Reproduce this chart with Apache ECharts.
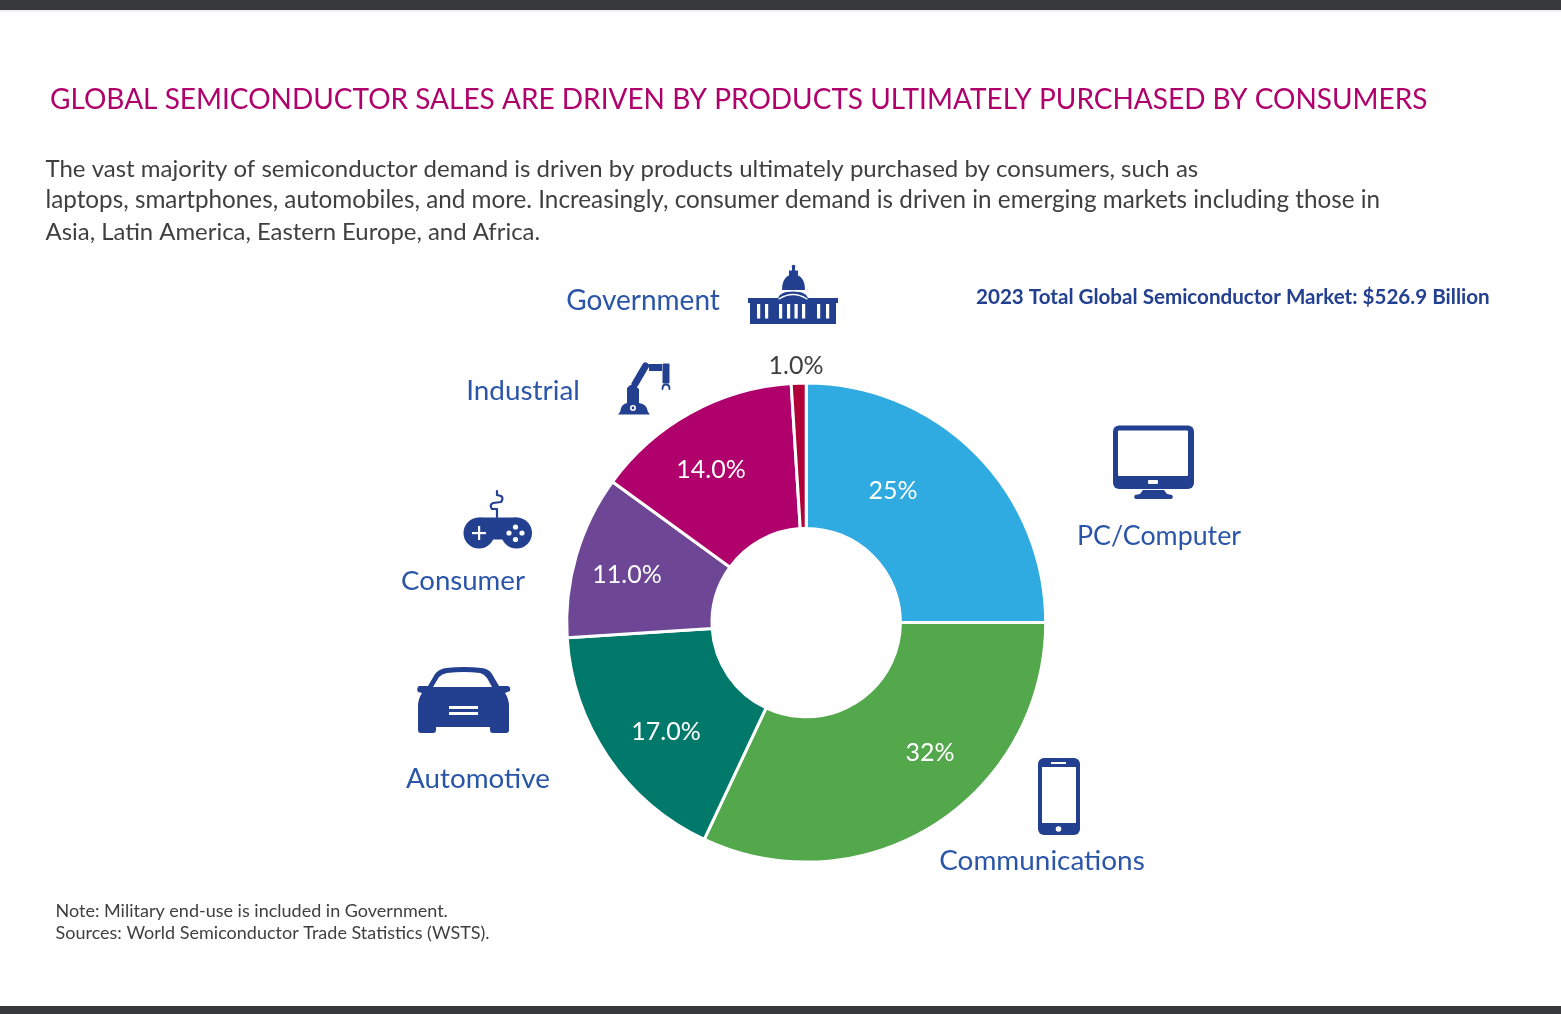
<!DOCTYPE html>
<html><head><meta charset="utf-8">
<style>html,body{margin:0;padding:0;background:#fff}#c{width:1561px;height:1014px}</style>
<script src="https://cdn.jsdelivr.net/npm/echarts@6/dist/echarts.min.js"></script></head>
<body><div id="c"></div>
<script>
const categories = ['PC/Computer','Communications','Automotive','Consumer','Industrial','Government'];
const values = [25,32,17,11,14,1];
const valueLabels = ['25%','32%','17.0%','11.0%','14.0%','1.0%'];
const sliceColors = ['#2FABE2','#52A84A','#00796B','#6D4795','#B0006B','#B00038'];
const titleText = 'GLOBAL SEMICONDUCTOR SALES ARE DRIVEN BY PRODUCTS ULTIMATELY PURCHASED BY CONSUMERS';
const introLines = ['The vast majority of semiconductor demand is driven by products ultimately purchased by consumers, such as',
 'laptops, smartphones, automobiles, and more. Increasingly, consumer demand is driven in emerging markets including those in',
 'Asia, Latin America, Eastern Europe, and Africa.'];
const totalText = '2023 Total Global Semiconductor Market: $526.9 Billion';
const noteLines = ['Note: Military end-use is included in Government.','Sources: World Semiconductor Trade Statistics (WSTS).'];

const FONT = 'Lato, "Noto Sans", sans-serif';
const NAVY = '#234090', LABEL = '#2A55A8';
const namePos = [[1159,536.5],[1042,861],[478,779.5],[463,581.5],[523,391],[643,301]];
const nameSize = [26.8,27.9,27.8,27.6,27.9,28];
const pctPos = [[893,491],[930,753],[666,732],[627,575],[711,470],[796,365.5]];
const introSize = [24,24.25,23.9];

const txt = (s,x,y,size,fill,extra={}) => ({type:'text',silent:true,x,y,style:{text:s,font:`${extra.weight||'normal'} ${size}px ${FONT}`,fill,textAlign:extra.align||'left',textVerticalAlign:'middle'}});
const rect = (x,y,w,h,fill,r=0) => ({type:'rect',silent:true,shape:{x,y,width:w,height:h,r},style:{fill}});
const circ = (cx,cy,r,fill) => ({type:'circle',silent:true,shape:{cx,cy,r},style:{fill}});
let shapeCount = 0;
const shapeType = d => { const name='iconShape'+(shapeCount++); echarts.graphic.registerShape(name, echarts.graphic.extendPath(d)); return name; };
const path = (d,fill) => ({type:shapeType(d),silent:true,style:{fill}});
const stroke = (d,w,col=NAVY) => ({type:shapeType(d),silent:true,style:{fill:'none',stroke:col,lineWidth:w,lineCap:'round',lineJoin:'round'}});

const icons = [
 // monitor
 rect(1113,425.5,81,63.5,NAVY,6), rect(1118,430.5,70,45.5,'#fff',1), rect(1148,480,10,4,'#fff',1),
 path('M1143,490 L1164,490 L1167,494 L1172,495 Q1174,498 1171,499 L1136,499 Q1133,498 1135,495 L1140,494 Z',NAVY),
 // phone
 rect(1038,758,42,77,NAVY,6), rect(1042,767,34,56,'#fff'), rect(1051,762,15,2,'#fff'), circ(1058.5,829,2.8,'#fff'),
 // car
 path('M446,668 Q464,666 482,668 Q489,669 492,674 L499,686 L508,686 Q511,687 510,691 L505,693 Q509,699 509,706 L509,730 Q509,733 506,733 L493,733 Q490,733 490,730 L490,727 L436,727 L436,730 Q436,733 433,733 L421,733 Q418,733 418,730 L418,706 Q418,699 422,693 L418,692 Q416,688 419,686 L428,686 L435,674 Q439,669 446,668 Z',NAVY),
 path('M447,673 Q464,671 480,673 Q484,674 487,678 L492,687 L433,687 L439,677 Q442,674 447,673 Z','#fff'),
 rect(449,706,29,3,'#fff'), rect(449,712,29,3,'#fff'),
 // gamepad
 circ(479,533,15.5,NAVY), circ(516.5,533,15.5,NAVY), rect(479,517.5,38,22,NAVY),
 stroke('M497,517 L497,509 L492,509 Q489,505 493,503 L501,502 Q504,498 501,496 L497,495 L497,491',2.2),
 rect(472,532,14,2.2,'#fff'), rect(478,526,2.2,14,'#fff'),
 circ(515.5,527,2.6,'#fff'), circ(509,533,2.6,'#fff'), circ(522,533,2.6,'#fff'), circ(515.5,539.5,2.6,'#fff'),
 // robot arm
 path('M618,414.5 L620,412 Q621,404 627,403 L627,388 Q630,384 634,385 L639,389 L639,403 Q647,404 648,412 L650,414.5 Z',NAVY),
 circ(633,408,3,'#fff'), circ(633,408,1.4,NAVY),
 stroke('M635,384 L645.5,366',7), rect(649,364,13,7,NAVY), rect(662.5,363.5,7,20,NAVY,1),
 stroke('M662.5,389 Q662.5,384.5 666,384.5 Q669.5,384.5 669.5,389',1.8),
 // capitol
 rect(748,298,90,5,NAVY), rect(750,303,86,21,NAVY),
 path('M778,303 L778,299 Q779,291.5 793,291.5 Q807,291.5 808,299 L808,303 Z',NAVY),
 path('M782,290 C782,279 787,274.5 793.5,274.5 C800,274.5 805,279 805,290 Z',NAVY),
 stroke('M779,299 Q793,290 807,299',1.3,'#fff'),
 rect(789,270.5,9,6,NAVY), rect(792,266,3,5,NAVY), circ(793.5,266.5,1.8,NAVY),
 ...[757,765,779,787,794.5,802,817,826].map(x=>rect(x,304,3.2,14.5,'#fff'))
];

const texts = [
 txt(titleText,50,100,28,'#B0006B'),
 ...introLines.map((s,i)=>txt(s,45.5,169+i*31.5,introSize[i],'#3F3F3F')),
 txt(totalText,976,297.5,20.6,NAVY,{weight:'bold'}),
 ...categories.map((c,i)=>txt(c,namePos[i][0],namePos[i][1],nameSize[i],LABEL,{align:'center'})),
 ...noteLines.map((s,i)=>txt(s,55.5,911+i*22,18,'#3F3F3F'))
];

const chart = echarts.init(document.getElementById('c'),null,{renderer:'canvas'});
chart.setOption({
 animation:false,
 backgroundColor:'#fff',
 series:[{
  type:'pie',silent:true,
  center:[806.2,622.6],radius:[94.2,239.5],startAngle:90,clockwise:true,
  data:categories.map((n,i)=>({name:n,value:values[i],itemStyle:{color:sliceColors[i]},
    label:{formatter:valueLabels[i],color:i===5?'#3F3F3F':'#fff'}})),
  itemStyle:{borderColor:'#fff',borderWidth:3},
  label:{show:true,position:'inside',fontFamily:FONT,fontSize:25},
  labelLine:{show:false},
  labelLayout:p=>({x:pctPos[p.dataIndex][0],y:pctPos[p.dataIndex][1],align:'center',verticalAlign:'middle'})
 }],
 graphic:{elements:[
  rect(0,0,1561,10,'#35393C'), rect(0,10,1561,2,'#F1F1F1'), rect(0,1006,1561,8,'#35393C'),
  ...texts, ...icons
 ]}
});
</script></body></html>
